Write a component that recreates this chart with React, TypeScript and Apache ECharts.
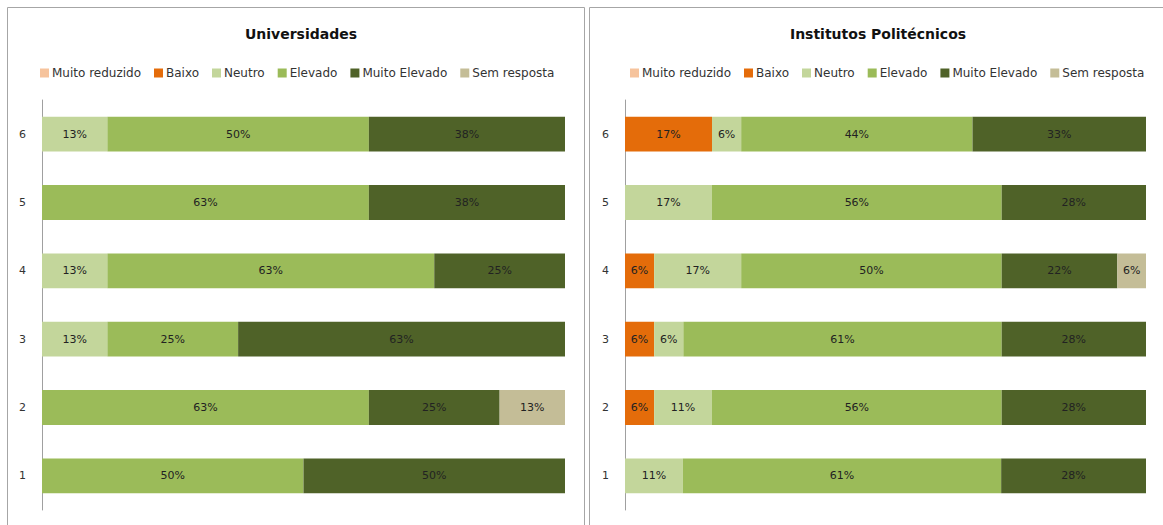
import React, { useEffect, useRef } from "react";
import * as echarts from "echarts";

const categories = ["1", "2", "3", "4", "5", "6"];
const seriesNames = ["Muito reduzido", "Baixo", "Neutro", "Elevado", "Muito Elevado", "Sem resposta"];
const colors = ["#F6C39C", "#E46C0A", "#C3D69B", "#9BBB59", "#4F6228", "#C4BD97"];

// Universidades (rows 1..6)
const uniMuitoReduzido = [0, 0, 0, 0, 0, 0];
const uniBaixo = [0, 0, 0, 0, 0, 0];
const uniNeutro = [0, 0, 12.5, 12.5, 0, 12.5];
const uniElevado = [50, 62.5, 25, 62.5, 62.5, 50];
const uniMuitoElevado = [50, 25, 62.5, 25, 37.5, 37.5];
const uniSemResposta = [0, 12.5, 0, 0, 0, 0];

// Institutos Politécnicos (rows 1..6)
const ipMuitoReduzido = [0, 0, 0, 0, 0, 0];
const ipBaixo = [0, 5.6, 5.6, 5.6, 0, 16.7];
const ipNeutro = [11.1, 11.1, 5.6, 16.7, 16.7, 5.6];
const ipElevado = [61.1, 55.6, 61.1, 50, 55.6, 44.4];
const ipMuitoElevado = [27.8, 27.8, 27.8, 22.2, 27.8, 33.3];
const ipSemResposta = [0, 0, 0, 5.6, 0, 0];

const titles = ["Universidades", "Institutos Politécnicos"];

const FONT = "DejaVu Sans";

export default function App() {
  const ref = useRef<HTMLDivElement>(null);
  useEffect(() => {
    if (!ref.current) return;
    const chart = echarts.init(ref.current, null, { renderer: "svg" });
    const uni = [uniMuitoReduzido, uniBaixo, uniNeutro, uniElevado, uniMuitoElevado, uniSemResposta];
    const ip = [ipMuitoReduzido, ipBaixo, ipNeutro, ipElevado, ipMuitoElevado, ipSemResposta];
    const mk = (data: number[], i: number, g: number) => ({
      type: "bar",
      name: seriesNames[i],
      stack: "s" + g,
      xAxisIndex: g,
      yAxisIndex: g,
      barWidth: "51%",
      data,
      itemStyle: { color: colors[i] },
      label: {
        show: true,
        position: "inside",
        color: "#222",
        fontFamily: FONT,
        fontSize: 11,
        formatter: (p: any) => (p.value > 0 ? Math.round(p.value) + "%" : ""),
      },
    });
    const series = [
      ...uni.map((d, i) => mk(d, i, 0)),
      ...ip.map((d, i) => mk(d, i, 1)),
    ];
    const yAxis = (g: number) => ({
      type: "category",
      gridIndex: g,
      data: categories,
      axisLine: { show: true, lineStyle: { color: "#A0A0A0", width: 1 } },
      axisTick: { show: false },
      axisLabel: { color: "#333333", fontFamily: FONT, fontSize: 11, margin: 16 },
    });
    const xAxis = (g: number) => ({
      type: "value",
      gridIndex: g,
      min: 0,
      max: 100,
      show: false,
      splitLine: { show: false },
    });
    const legend = (left: number) => ({
      data: seriesNames,
      left,
      top: 62,
      icon: "rect",
      itemWidth: 9,
      itemHeight: 9,
      itemGap: 13,
      textStyle: { fontFamily: FONT, fontSize: 12, color: "#333", padding: [0, 0, 0, -2] },
    });
    chart.setOption({
      animation: false,
      backgroundColor: "#fff",
      title: [
        {
          text: titles[0],
          left: 296,
          top: 22,
          textAlign: "center",
          textStyle: { fontFamily: FONT, fontSize: 14, fontWeight: "bold", color: "#111" },
        },
        {
          text: titles[1],
          left: 873,
          top: 22,
          textAlign: "center",
          textStyle: { fontFamily: FONT, fontSize: 14, fontWeight: "bold", color: "#111" },
        },
      ],
      legend: [legend(35), legend(625)],
      grid: [
        { left: 42, width: 523, top: 100, height: 410 },
        { left: 625, width: 521, top: 100, height: 410 },
      ],
      xAxis: [xAxis(0), xAxis(1)],
      yAxis: [yAxis(0), yAxis(1)],
      series,
      graphic: [
        {
          type: "rect",
          shape: { x: 7.5, y: 7.5, width: 577, height: 540 },
          style: { fill: "none", stroke: "#A6A6A6", lineWidth: 1 },
          z: -1,
        },
        {
          type: "rect",
          shape: { x: 589.5, y: 7.5, width: 600, height: 540 },
          style: { fill: "none", stroke: "#A6A6A6", lineWidth: 1 },
          z: -1,
        },
      ],
    });
    return () => chart.dispose();
  }, []);
  return (
    <div
      ref={ref}
      style={{ position: "fixed", left: 0, top: 0, width: 1163, height: 525 }}
    />
  );
}
